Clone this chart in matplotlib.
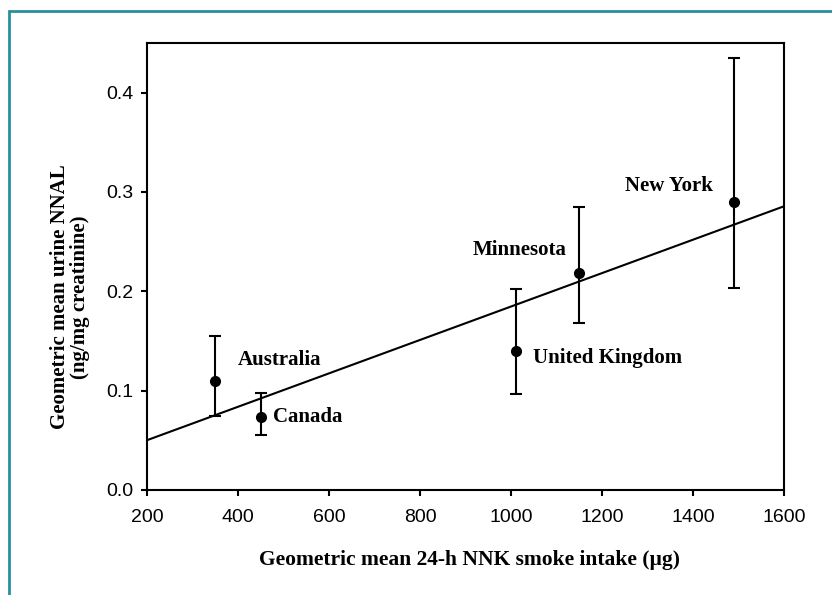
import numpy as np
import matplotlib
matplotlib.use("Agg")
import matplotlib.pyplot as plt
from matplotlib.patches import Rectangle

# Data
regions = ["Australia", "Canada", "United Kingdom", "Minnesota", "New York"]
nnk_intake = [350, 450, 1010, 1150, 1490]
nnal_mean = [0.110, 0.073, 0.140, 0.218, 0.290]
nnal_low = [0.075, 0.055, 0.097, 0.168, 0.203]
nnal_high = [0.155, 0.098, 0.202, 0.285, 0.435]
label_x = [400, 477, 1048, 915, 1250]
label_y = [0.131, 0.073, 0.133, 0.242, 0.306]
x_ticks = [200, 400, 600, 800, 1000, 1200, 1400, 1600]
y_ticks = [0.0, 0.1, 0.2, 0.3, 0.4]

fig = plt.figure(figsize=(8.32, 5.95), dpi=100)
ax = fig.add_axes([147/832, 1-490/595, (784-147)/832, (490-43)/595])

# teal frame
fig.patches.append(Rectangle((9/832, -0.05), 1.2, 1-11/595+0.05, transform=fig.transFigure,
                             fill=False, edgecolor="#2a8f9c", linewidth=2.0))

x = np.array(nnk_intake, dtype=float)
y = np.array(nnal_mean)
yerr = np.array([y - np.array(nnal_low), np.array(nnal_high) - y])

slope, intercept = np.polyfit(x, y, 1)
xl = np.array([200, 1600], dtype=float)
ax.plot(xl, slope*xl + intercept, color="black", lw=1.5)

ax.errorbar(x, y, yerr=yerr, fmt="o", color="black", ms=7, capsize=4.6,
            elinewidth=1.5, capthick=1.5)

serif = ["Liberation Serif", "DejaVu Serif"]
for name, lx, ly in zip(regions, label_x, label_y):
    ax.text(lx, ly, name, family=serif, fontweight="bold",
            fontsize=15, va="center", ha="left")

ax.set_xlim(200, 1600)
ax.set_ylim(0, 0.45)
ax.set_xticks(x_ticks)
ax.set_yticks(y_ticks)
ax.set_yticklabels([f"{v:.1f}" for v in y_ticks])
for lab in ax.get_xticklabels() + ax.get_yticklabels():
    lab.set_family("Liberation Sans")
    lab.set_fontsize(14)
ax.tick_params(direction="out", length=4.5, width=1.5)
ax.tick_params(axis="x", pad=9)
ax.tick_params(axis="y", pad=5)
for s in ax.spines.values():
    s.set_linewidth(1.5)

fig.text(469/832, 1-560/595, "Geometric mean 24-h NNK smoke intake (µg)", family=serif,
         fontweight="bold", fontsize=15.5, ha="center", va="center")
fig.text(70/832, 1-297/595, "Geometric mean urine NNAL\n(ng/mg creatinine)", family=serif,
         fontweight="bold", fontsize=15, ha="center", va="center", rotation=90,
         multialignment="center", linespacing=1.05)

fig.savefig("out.png", dpi=100)
